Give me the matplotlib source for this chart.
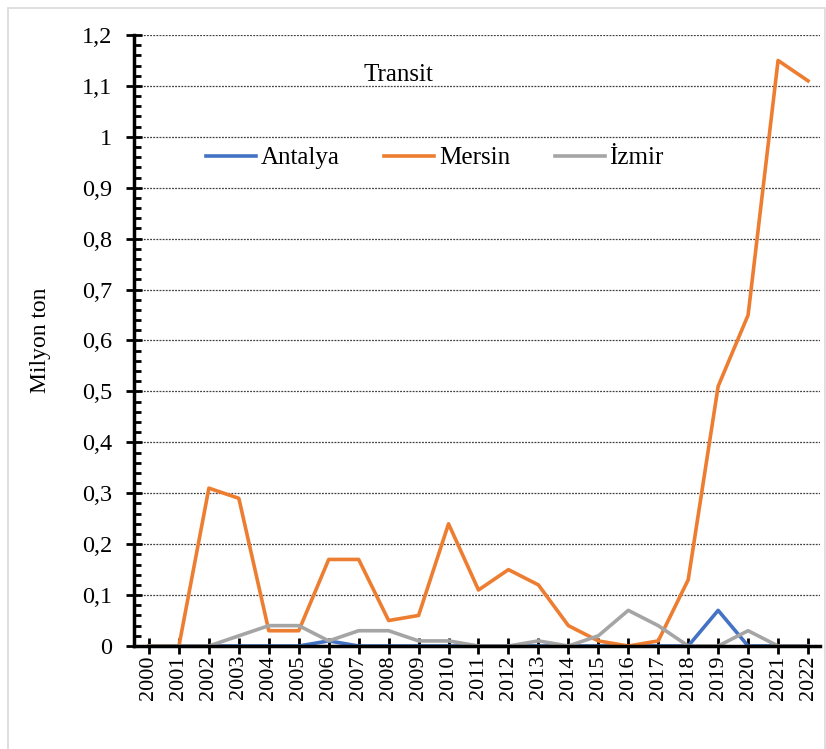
import matplotlib
matplotlib.use("Agg")
import matplotlib.pyplot as plt
from matplotlib.ticker import MultipleLocator, FuncFormatter
from matplotlib.patches import Rectangle

years = [str(y) for y in range(2000, 2023)]
antalya = [0, 0, 0, 0, 0, 0, 0.01, 0, 0, 0, 0, 0, 0, 0, 0, 0, 0, 0, 0, 0.07, 0, 0, 0]
mersin = [0, 0, 0.31, 0.29, 0.03, 0.03, 0.17, 0.17, 0.05, 0.06, 0.24, 0.11, 0.15, 0.12,
          0.04, 0.01, 0.0, 0.01, 0.13, 0.51, 0.65, 1.15, 1.11]
izmir = [0, 0, 0, 0.02, 0.04, 0.04, 0.01, 0.03, 0.03, 0.01, 0.01, 0, 0, 0.01, 0, 0.02,
         0.07, 0.04, 0, 0, 0.03, 0, 0]

plt.rcParams['font.family'] = ['Liberation Serif', 'DejaVu Serif']

W, H = 826, 749
fig = plt.figure(figsize=(W/100, H/100), dpi=100)
L, R, T, B = 134, 820, 35, 646
ax = fig.add_axes([L/W, 1-B/H, (R-L)/W, (B-T)/H])

fig.patches.append(Rectangle((8/W, -0.01), 817/W, 1-8/H+0.01, transform=fig.transFigure,
                             fill=False, edgecolor='#d9d9d9', linewidth=1.2))

x = list(range(len(years)))
lw = 2.6
ax.plot(x, antalya, color='#4472C4', lw=lw, label='Antalya')
ax.plot(x, mersin, color='#ED7D31', lw=lw, label='Mersin')
ax.plot(x, izmir, color='#A5A5A5', lw=lw, label='İzmir')

ax.set_xlim(-0.5, 22.4)
ax.set_ylim(0, 1.2)
ax.set_xticks(x)
ax.set_xticklabels(years, rotation=90, fontsize=16)
ax.yaxis.set_major_locator(MultipleLocator(0.1))
ax.yaxis.set_minor_locator(MultipleLocator(0.02))
ax.yaxis.set_major_formatter(FuncFormatter(lambda v, p: ('%g' % round(v, 2)).replace('.', ',')))
ax.tick_params(axis='y', which='major', direction='inout', length=11, width=2, labelsize=17.5, pad=10)
ax.tick_params(axis='y', which='minor', direction='in', length=5, width=2)
ax.tick_params(axis='x', which='major', direction='inout', length=11, width=2, pad=1)

for s in ['top', 'right']:
    ax.spines[s].set_visible(False)
ax.spines['left'].set_linewidth(2.5)
ax.spines['bottom'].set_linewidth(2.5)

ax.grid(axis='y', which='major', linestyle=(0, (1.5, 1)), color='#404040', linewidth=0.9)
ax.set_axisbelow(True)

ax.set_ylabel('Milyon ton', fontsize=17)
ax.yaxis.set_label_coords((51-L)/(R-L), 0.5)

fig.text(398/W, 1-75/H, 'Transit', fontsize=18, ha='center', va='center')

leg = ax.legend(loc='center left', bbox_to_anchor=((206-L)/(R-L), (B-158)/(B-T)),
                ncol=3, frameon=False, fontsize=18, handlelength=2.0, handletextpad=0.18,
                columnspacing=1.8, borderpad=0, borderaxespad=0)

fig.savefig('out.png', dpi=100)
